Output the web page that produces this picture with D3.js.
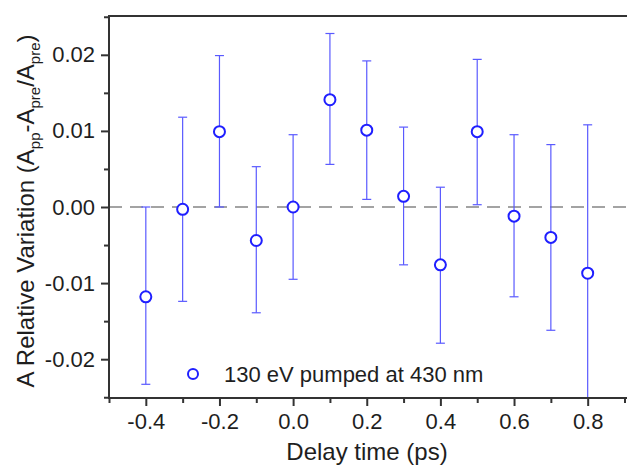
<!DOCTYPE html>
<html>
<head>
  <meta charset="utf-8">
  <script src="https://d3js.org/d3.v7.min.js"></script>
  <style>
    body { margin: 0; background: #fff; }
    text { font-family: "Liberation Sans", Arial, sans-serif; fill: #1e1e1e; }
  </style>
</head>
<body>
  <div id="chart"></div>
  <script>
    // delay times (ps), relative variation, and error bar ends
    const delays = [-0.4, -0.3, -0.2, -0.1, 0.0, 0.1, 0.2, 0.3, 0.4, 0.5, 0.6, 0.7, 0.8];
    const values = [-0.0118, -0.0003, 0.0099, -0.0044, 0.0, 0.0141, 0.0101, 0.0014, -0.0076, 0.0099, -0.0012, -0.0040, -0.0087];
    const errHigh = [0.0000, 0.0118, 0.0199, 0.0053, 0.0095, 0.0228, 0.0192, 0.0105, 0.0026, 0.0194, 0.0095, 0.0082, 0.0108];
    const errLow = [-0.0233, -0.0124, 0.0000, -0.0139, -0.0095, 0.0056, 0.0010, -0.0076, -0.0179, 0.0003, -0.0118, -0.0162, -0.0290];
    const xTicks = [-0.4, -0.2, 0.0, 0.2, 0.4, 0.6, 0.8];
    const yTicks = [-0.02, -0.01, 0.00, 0.01, 0.02];
    const legendLabel = "130 eV pumped at 430 nm";

    const width = 627, height = 473;
    const mLeft = 109, mTop = 16, mBottom = 398, mRight = 627;

    const svg = d3.select("#chart").append("svg")
      .attr("width", width).attr("height", height);

    const x = d3.scaleLinear().domain([-0.5, 0.9]).range([mLeft, 624.5]);
    const y = d3.scaleLinear().domain([-0.0251, 0.0251]).range([mBottom, mTop]);

    // plain hyphen for negatives, like the original
    const fmt = p => d => d3.format(p)(d).replace("\u2212", "-");

    svg.append("clipPath").attr("id", "plot")
      .append("rect").attr("x", mLeft).attr("y", mTop)
      .attr("width", mRight - mLeft).attr("height", mBottom - mTop);

    // zero line
    svg.append("line")
      .attr("x1", mLeft).attr("x2", mRight)
      .attr("y1", y(0)).attr("y2", y(0))
      .attr("stroke", "#a3a3a3").attr("stroke-width", 2.2)
      .attr("stroke-dasharray", "13,8");

    const data = delays.map((d, i) => ({ x: d, y: values[i], hi: errHigh[i], lo: errLow[i] }));
    const g = svg.append("g").attr("clip-path", "url(#plot)");
    const blue = "#1f1fff";
    const barColor = "#5a5aff";

    const bars = g.selectAll(".err").data(data).join("g");
    bars.append("line")
      .attr("x1", d => x(d.x)).attr("x2", d => x(d.x))
      .attr("y1", d => y(d.hi)).attr("y2", d => y(d.lo))
      .attr("stroke", barColor).attr("stroke-width", 1.2);
    bars.append("line")
      .attr("x1", d => x(d.x) - 4.5).attr("x2", d => x(d.x) + 4.5)
      .attr("y1", d => y(d.hi)).attr("y2", d => y(d.hi))
      .attr("stroke", barColor).attr("stroke-width", 1.2);
    bars.append("line")
      .attr("x1", d => x(d.x) - 4.5).attr("x2", d => x(d.x) + 4.5)
      .attr("y1", d => y(d.lo)).attr("y2", d => y(d.lo))
      .attr("stroke", barColor).attr("stroke-width", 1.2);

    g.selectAll(".pt").data(data).join("circle")
      .attr("cx", d => x(d.x)).attr("cy", d => y(d.y))
      .attr("r", 5.5)
      .attr("fill", "#fff").attr("stroke", blue).attr("stroke-width", 2);

    // axes
    const axisColor = "#333";
    const xAxis = svg.append("g").attr("transform", `translate(0,${mBottom})`)
      .call(d3.axisBottom(x).tickValues(xTicks).tickSize(8).tickPadding(7).tickFormat(fmt(".1f")));
    const xMinor = svg.append("g").attr("transform", `translate(0,${mBottom})`)
      .call(d3.axisBottom(x).tickValues([-0.5, -0.3, -0.1, 0.1, 0.3, 0.5, 0.7, 0.9]).tickSize(5).tickFormat(""));
    const yAxis = svg.append("g").attr("transform", `translate(${mLeft},0)`)
      .call(d3.axisLeft(y).tickValues(yTicks).tickSize(8).tickPadding(6).tickFormat(fmt(".2f")));
    const yMinor = svg.append("g").attr("transform", `translate(${mLeft},0)`)
      .call(d3.axisLeft(y).tickValues([-0.025, -0.015, -0.005, 0.005, 0.015, 0.025]).tickSize(5).tickFormat(""));

    [xAxis, xMinor, yAxis, yMinor].forEach(a => {
      a.select(".domain").remove();
      a.selectAll("line").attr("stroke", axisColor).attr("stroke-width", 2);
      a.selectAll("text").attr("font-size", 22).attr("fill", "#1e1e1e")
        .style("font-family", '"Liberation Sans", Arial, sans-serif');
    });

    // frame lines
    svg.append("line").attr("x1", mLeft).attr("x2", mLeft).attr("y1", mTop - 1).attr("y2", mBottom + 1)
      .attr("stroke", axisColor).attr("stroke-width", 2);
    svg.append("line").attr("x1", mLeft - 1).attr("x2", mRight).attr("y1", mBottom).attr("y2", mBottom)
      .attr("stroke", axisColor).attr("stroke-width", 2);
    svg.append("line").attr("x1", mLeft - 1).attr("x2", mRight).attr("y1", mTop).attr("y2", mTop)
      .attr("stroke", axisColor).attr("stroke-width", 2);

    // legend
    svg.append("circle").attr("cx", 193).attr("cy", 374).attr("r", 5)
      .attr("fill", "#fff").attr("stroke", blue).attr("stroke-width", 2);
    svg.append("text").attr("x", 224).attr("y", 382)
      .attr("font-size", 22).text(legendLabel);

    // axis titles
    svg.append("text").attr("x", 367).attr("y", 460)
      .attr("text-anchor", "middle").attr("font-size", 24).text("Delay time (ps)");

    const yt = svg.append("text")
      .attr("transform", "translate(34,211) rotate(-90)")
      .attr("text-anchor", "middle").attr("font-size", 24);
    yt.append("tspan").text("A Relative Variation (A");
    yt.append("tspan").attr("font-size", 15).attr("dy", 6).text("pp");
    yt.append("tspan").attr("dy", -6).text("-A");
    yt.append("tspan").attr("font-size", 15).attr("dy", 6).text("pre");
    yt.append("tspan").attr("dy", -6).text("/A");
    yt.append("tspan").attr("font-size", 15).attr("dy", 6).text("pre");
    yt.append("tspan").attr("dy", -6).text(")");
  </script>
</body>
</html>
